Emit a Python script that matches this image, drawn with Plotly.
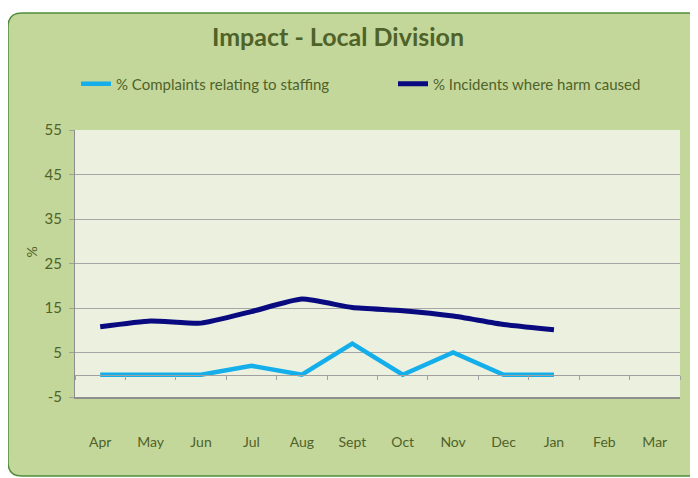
import plotly.graph_objects as go

months = ["Apr", "May", "Jun", "Jul", "Aug", "Sept", "Oct", "Nov", "Dec", "Jan", "Feb", "Mar"]
complaints = [0, 0, 0, 2, 0, 7, 0, 5, 0, 0, None, None]
incidents = [10.8, 12.1, 11.6, 14.2, 17.0, 15.1, 14.4, 13.2, 11.3, 10.1, None, None]
y_ticks = [-5, 5, 15, 25, 35, 45, 55]
y_tick_labels = ["-5", "5", "15", "25", "35", "45", "55"]

OFF = 8  # page body margin
W, H = 698 - OFF, 478 - OFF
L, R, T, B = 75 - OFF, 680 - OFF, 130 - OFF, 397 - OFF


def px(x):
    return (x - OFF - L) / (R - L)


def py(y):
    return (B - (y - OFF)) / (B - T)


TXT = "#4F6228"
FONT = "Lato"

fig = go.Figure()
fig.add_trace(go.Scatter(x=months, y=complaints, mode="lines",
                         name="% Complaints relating to staffing",
                         line=dict(color="#14AEEA", width=4.5), legend="legend"))
fig.add_trace(go.Scatter(x=months, y=incidents, mode="lines",
                         name="% Incidents where harm caused",
                         line=dict(color="#0A0A80", width=5, shape="spline", smoothing=0.5),
                         legend="legend2"))
# helper trace so the zero-line category axis (ticks at boundaries) is drawn
fig.add_trace(go.Scatter(x=list(range(len(months))), y=[0] * len(months), xaxis="x2",
                         mode="lines", line=dict(width=0), opacity=0, showlegend=False,
                         hoverinfo="skip"))

# rounded panel
x0, x1, y0, y1, r = 8, 705, 13, 476, 14
path = (f"M {px(x0 + r)},{py(y0)} L {px(x1 - r)},{py(y0)} "
        f"Q {px(x1)},{py(y0)} {px(x1)},{py(y0 + r)} L {px(x1)},{py(y1 - r)} "
        f"Q {px(x1)},{py(y1)} {px(x1 - r)},{py(y1)} L {px(x0 + r)},{py(y1)} "
        f"Q {px(x0)},{py(y1)} {px(x0)},{py(y1 - r)} L {px(x0)},{py(y0 + r)} "
        f"Q {px(x0)},{py(y0)} {px(x0 + r)},{py(y0)} Z")
fig.add_shape(type="path", path=path, xref="paper", yref="paper", layer="below",
              fillcolor="#C4D79B", line=dict(color="#4E8C3A", width=1.5))
# plot area background
fig.add_shape(type="rect", x0=0, x1=1, y0=0, y1=1, xref="paper", yref="paper", layer="below",
              fillcolor="#EBF1DE", line=dict(width=0))

fig.add_annotation(text="%", x=px(20), y=py(252), xref="paper", yref="paper",
                   showarrow=False, textangle=-90, font=dict(family=FONT, size=14, color=TXT))

fig.update_layout(
    width=W, height=H,
    margin=dict(l=L, r=W - R, t=T, b=H - B),
    paper_bgcolor="white",
    plot_bgcolor="rgba(0,0,0,0)",
    font=dict(family=FONT, color=TXT, size=14),
    title=dict(text="<b>Impact - Local Division</b>", x=(338 - OFF) / W, xanchor="center",
               y=1 - (37 - OFF) / H, yanchor="middle", font=dict(family=FONT, size=25, color=TXT)),
    legend=dict(orientation="h", x=px(76), xanchor="left", y=py(84), yanchor="middle",
                bgcolor="rgba(0,0,0,0)", font=dict(family=FONT, size=15, color=TXT)),
    legend2=dict(orientation="h", x=px(393), xanchor="left", y=py(84), yanchor="middle",
                 bgcolor="rgba(0,0,0,0)", font=dict(family=FONT, size=15, color=TXT)),
    xaxis=dict(type="category", categoryorder="array", categoryarray=months,
               range=[-0.5, 11.5], showgrid=False, showline=True, linecolor="#8E8E8E",
               linewidth=1.5, ticks="", ticklabelstandoff=31, zeroline=False,
               tickfont=dict(family=FONT, size=14, color=TXT)),
    xaxis2=dict(overlaying="x", anchor="free", position=5 / 60, range=[-0.5, 11.5],
                tick0=-0.5, dtick=1, ticks="outside", ticklen=4, tickcolor="#A0A0A0",
                showline=True, linecolor="#A0A0A0", linewidth=1, showticklabels=False,
                showgrid=False, zeroline=False, side="bottom"),
    yaxis=dict(range=[-5, 55], tickvals=y_ticks, ticktext=y_tick_labels, showgrid=True,
               gridcolor="#A6A6A6", gridwidth=1, showline=True, linecolor="#8E8E8E",
               linewidth=1, ticks="outside", ticklen=5, tickcolor="#A0A0A0", zeroline=False,
               ticklabelstandoff=4, tickfont=dict(family=FONT, size=15, color=TXT)),
    showlegend=True,
)

fig.write_html("out.html")
